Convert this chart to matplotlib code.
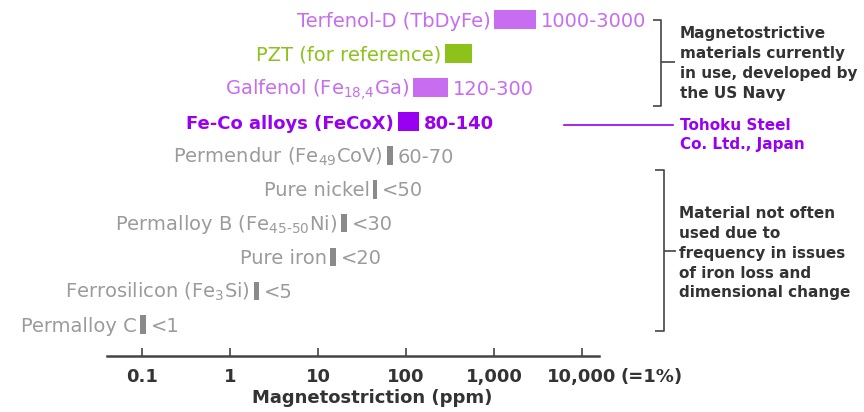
import matplotlib
matplotlib.use("Agg")
import matplotlib.pyplot as plt
from matplotlib.ticker import FixedLocator, FixedFormatter

plt.rcParams['font.family'] = 'DejaVu Sans'
plt.rcParams['mathtext.default'] = 'regular'

# --- data: magnetostriction ranges (ppm) ---
materials = [
    "Terfenol-D (TbDyFe)",
    "PZT (for reference)",
    r"Galfenol (Fe$_{\text{18,4}}$Ga)",
    "Fe-Co alloys (FeCoX)",
    r"Permendur (Fe$_{49}$CoV)",
    "Pure nickel",
    r"Permalloy B (Fe$_{\text{45-50}}$Ni)",
    "Pure iron",
    r"Ferrosilicon (Fe$_{3}$Si)",
    "Permalloy C",
]
low = [1000, 275, 120, 80, 60, 42, 18, 13.7, 1.84, 0.094]
high = [3000, 560, 300, 140, 70, 47, 21, 16, 2.15, 0.11]
value_text = ["1000-3000", "", "120-300", "80-140", "60-70",
              "<50", "<30", "<20", "<5", "<1"]

tick_vals = [0.1, 1, 10, 100, 1000, 10000]
tick_text = ["0.1", "1", "10", "100", "1,000", "10,000"]

# --- styles ---
LILAC = "#c86cf0"
GREEN = "#8cc21a"
VIOLET = "#9900f2"
GRAY_TXT = "#9b9b9b"
GRAY_BAR = "#8a8a8a"
DARK = "#333333"

text_colors = [LILAC, GREEN, LILAC, VIOLET] + [GRAY_TXT] * 6
bar_colors = [LILAC, GREEN, LILAC, VIOLET] + [GRAY_BAR] * 6
weights = ["normal", "normal", "normal", "bold"] + ["normal"] * 6
sizes = [14, 14, 14, 13] + [14] * 6

fig = plt.figure(figsize=(8.64, 4.12), dpi=100)
ax = fig.add_axes([107 / 864, 56.3 / 412, 492 / 864, 355.7 / 412])

rows = list(range(len(materials)))
widths = [h - l for l, h in zip(low, high)]
ax.barh(rows, widths, left=low, height=0.55, color=bar_colors, zorder=2)

for i in rows:
    # name to the left of the bar, value to the right
    ax.annotate(materials[i], xy=(low[i], i), xytext=(-2.5, -5.2),
                textcoords="offset points", ha="right", va="baseline",
                color=text_colors[i], fontsize=sizes[i], fontweight=weights[i])
    if value_text[i]:
        ax.annotate(value_text[i], xy=(high[i], i), xytext=(3.5, -5.2),
                    textcoords="offset points", ha="left", va="baseline",
                    color=text_colors[i], fontsize=sizes[i], fontweight=weights[i])

ax.set_xscale("log")
ax.set_xlim(0.0397, 15600)
ax.set_ylim(9.912, -0.581)

ax.xaxis.set_major_locator(FixedLocator(tick_vals))
ax.xaxis.set_major_formatter(FixedFormatter(tick_text))
ax.xaxis.set_minor_locator(FixedLocator([]))
ax.tick_params(axis="x", direction="in", length=6, width=1.2, color="#444444",
               pad=9, labelsize=13, labelcolor=DARK)
for lab in ax.get_xticklabels():
    lab.set_fontweight("bold")
ax.set_yticks([])
for side in ["top", "left", "right"]:
    ax.spines[side].set_visible(False)
ax.spines["bottom"].set_linewidth(1.8)
ax.spines["bottom"].set_color("#444444")

ax.annotate("(=1%)", xy=(10000, 0), xycoords=("data", "axes fraction"),
            xytext=(27.5, -9), textcoords="offset points", ha="left", va="top",
            fontsize=13, fontweight="bold", color=DARK)

ax.set_xlabel("Magnetostriction (ppm)", fontsize=13, fontweight="bold", color=DARK)
ax.xaxis.set_label_coords(0.54, -0.119)
ax.xaxis.label.set_va("center")

# --- side notes drawn in pixel space ---
ov = fig.add_axes([0, 0, 1, 1])
ov.set_xlim(0, 864)
ov.set_ylim(412, 0)
ov.axis("off")
ov.patch.set_visible(False)

bk = dict(color="#444444", lw=1.2, solid_capstyle="butt")
# upper bracket
ov.plot([653, 661, 661, 653], [20, 20, 106, 106], **bk)
ov.plot([661, 675], [62, 62], **bk)
# lower bracket
ov.plot([655, 664, 664, 655], [170, 170, 331, 331], **bk)
ov.plot([664, 676], [251, 251], **bk)
# leader for Fe-Co
ov.plot([564, 673], [125, 125], color=VIOLET, lw=1.2)

navy_lines = ["Magnetostrictive", "materials currently",
              "in use, developed by", "the US Navy"]
for k, line in enumerate(navy_lines):
    ov.text(680, 37.5 + 20 * k, line, fontsize=11, fontweight="bold",
            color=DARK, va="baseline", ha="left")

tohoku_lines = ["Tohoku Steel", "Co. Ltd., Japan"]
for k, line in enumerate(tohoku_lines):
    ov.text(680, 130 + 19 * k, line, fontsize=11, fontweight="bold",
            color=VIOLET, va="baseline", ha="left")

old_lines = ["Material not often", "used due to", "frequency in issues",
             "of iron loss and", "dimensional change"]
for k, line in enumerate(old_lines):
    ov.text(679, 218.3 + 19.8 * k, line, fontsize=11, fontweight="bold",
            color=DARK, va="baseline", ha="left")

fig.savefig("out.png", dpi=100)
